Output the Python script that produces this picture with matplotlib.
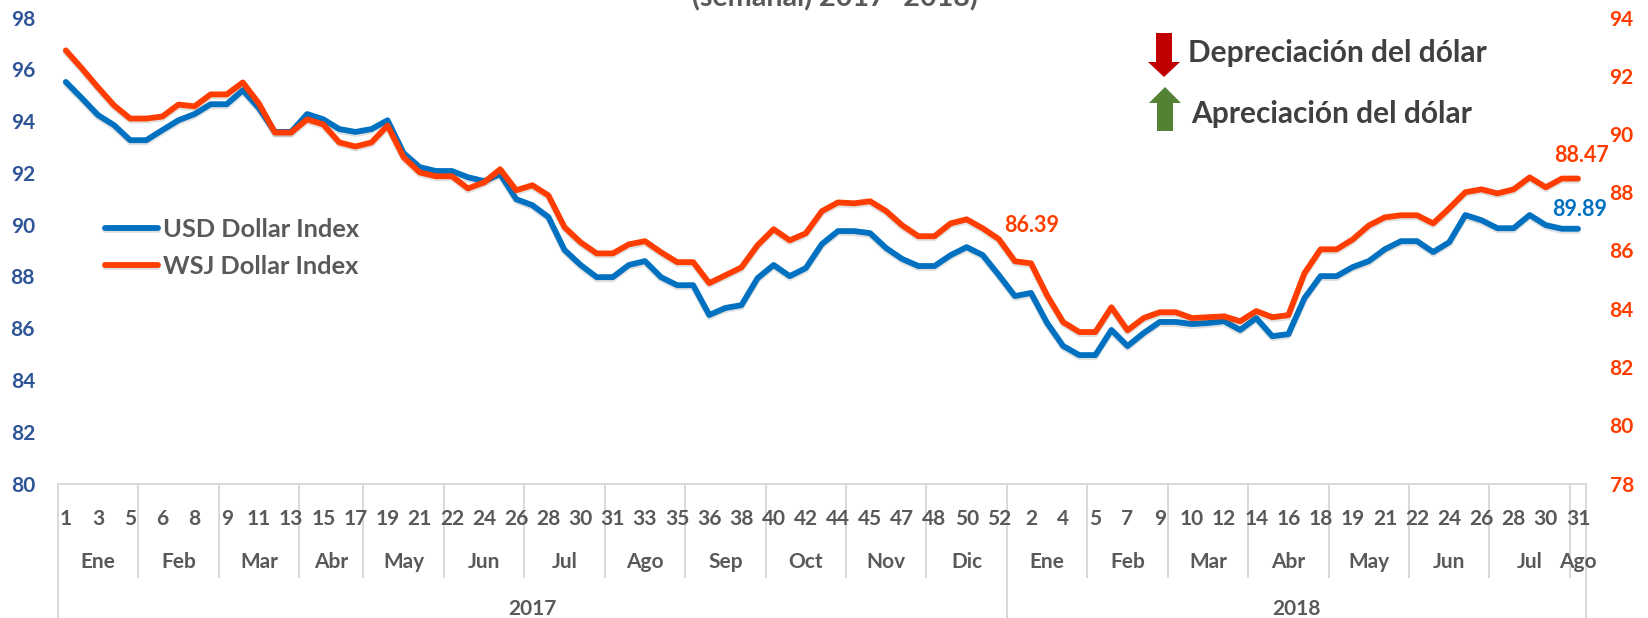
import matplotlib
matplotlib.use("Agg")
import matplotlib.pyplot as plt
import matplotlib.patheffects as pe
from matplotlib.lines import Line2D
from matplotlib.patches import Polygon

plt.rcParams['font.family'] = ['Lato', 'DejaVu Sans']
plt.rcParams['font.weight'] = 'bold'

usd = [95.51,94.88,94.23,93.84,93.26,93.26,93.65,94.03,94.27,94.65,94.65,95.19,94.50,93.58,93.58,94.27,94.07,93.69,93.58,93.69,94.03,92.76,92.22,92.07,92.07,91.83,91.68,91.95,90.98,90.75,90.29,89.02,88.44,87.97,87.97,88.44,88.59,87.97,87.66,87.66,86.51,86.78,86.89,87.93,88.44,88.01,88.32,89.25,
       89.75,89.75,89.67,89.09,88.67,88.40,88.40,88.82,89.13,88.82,88.05,87.24,87.36,86.20,85.31,84.96,84.96,85.93,85.31,85.81,86.24,86.24,86.16,86.20,86.27,85.93,86.39,85.69,85.77,87.16,88.01,88.01,88.36,88.59,89.05,89.36,89.36,88.94,89.32,90.37,90.17,89.86,89.86,90.37,89.98,89.84,89.84]
wsj = [92.87,92.25,91.60,90.98,90.53,90.53,90.60,91.01,90.95,91.36,91.36,91.77,91.05,90.05,90.05,90.50,90.33,89.71,89.57,89.71,90.29,89.20,88.68,88.55,88.55,88.13,88.34,88.79,88.07,88.24,87.89,86.80,86.28,85.90,85.90,86.21,86.32,85.94,85.60,85.60,84.88,85.15,85.42,86.18,86.73,86.35,86.59,87.35,
       87.65,87.62,87.69,87.35,86.86,86.49,86.49,86.93,87.07,86.76,86.39,85.63,85.56,84.46,83.54,83.20,83.20,84.05,83.26,83.68,83.88,83.88,83.68,83.71,83.74,83.57,83.92,83.71,83.78,85.22,86.04,86.04,86.38,86.86,87.14,87.21,87.21,86.93,87.45,88.00,88.10,87.96,88.10,88.51,88.17,88.47,88.47]
week_labels = ['1','3','5','6','8','9','11','13','15','17','19','21','22','24','26','28','30','31','33','35','36','38','40','42','44','45','47','48','50','52',
               '2','4','5','7','9','10','12','14','16','18','19','21','22','24','26','28','30','31']
months = ['Ene','Feb','Mar','Abr','May','Jun','Jul','Ago','Sep','Oct','Nov','Dic','Ene','Feb','Mar','Abr','May','Jun','Jul','Ago']
month_sizes = [5,5,5,4,5,5,5,5,5,5,5,5,5,5,5,5,5,5,5,1]
years = ['2017','2018']
year_sizes = [59,36]
left_ticks = list(range(80,100,2))
right_ticks = list(range(78,96,2))

W,H = 1648,618
BLUE,RED,GREY,LG = '#0070C0','#FF3D00','#595959','#D9D9D9'
FS = 15
fig = plt.figure(figsize=(W/100,H/100),dpi=100)
L,R,T,B = 57.8,1586,17.5,483.5
ax = fig.add_axes([L/W,1-B/H,(R-L)/W,(B-T)/H])
ax2 = ax.twinx()
n = len(usd)
x = list(range(n))
shadow = [pe.SimpleLineShadow(offset=(0,-1.5),alpha=0.18,shadow_color='#555555'),pe.Normal()]
l1, = ax.plot(x,usd,color=BLUE,lw=4.2,solid_joinstyle='round',solid_capstyle='round',path_effects=shadow,label='USD Dollar Index',zorder=3)
l2, = ax2.plot(x,wsj,color=RED,lw=4.2,solid_joinstyle='round',solid_capstyle='round',path_effects=shadow,label='WSJ Dollar Index',zorder=3)
ax.set_xlim(-0.5,n-0.5)
ax.set_ylim(80,98); ax2.set_ylim(78,94)
ax.set_yticks(left_ticks); ax2.set_yticks(right_ticks)
ax.tick_params(axis='y',length=0,pad=16.4,labelsize=FS,labelcolor='#2F5597')
ax2.tick_params(axis='y',length=0,pad=17,labelsize=FS,labelcolor=RED)
for a in (ax,ax2):
    for s in a.spines.values(): s.set_visible(False)
ax.spines['bottom'].set_visible(True); ax.spines['bottom'].set_color(LG); ax.spines['bottom'].set_linewidth(1.4)
ax.set_xticks(list(range(0,n,2))); ax.set_xticklabels(week_labels,fontsize=FS,color=GREY)
ax.tick_params(axis='x',length=0,pad=18.5)
ax.set_axisbelow(False)
trans = ax.get_xaxis_transform()
def sep(pos,ybot):
    ax.add_line(Line2D([pos,pos],[0,-(ybot-B)/(B-T)],transform=trans,color=LG,lw=1.4,clip_on=False,zorder=0.5))
def ylab(px): return -(px-B)/(B-T)
pos = -0.5
for m,s in zip(months,month_sizes):
    ax.text(pos+s/2,ylab(562.5),m,transform=trans,ha='center',va='center',fontsize=FS,color=GREY,zorder=4)
    sep(pos,577); pos += s
pos = -0.5
for y,s in zip(years,year_sizes):
    ax.text(pos+s/2,ylab(609),y,transform=trans,ha='center',va='center',fontsize=FS,color=GREY,zorder=4)
    sep(pos,H); pos += s
sep(pos,H)

fig.text(835/W,1-6/H,'(semanal) 2017- 2018)',ha='center',va='baseline',fontsize=20.6,color='#595959')

ax2.annotate('86.39',xy=(58,wsj[58]),xytext=(1031.6,H-226),textcoords='figure pixels',ha='center',va='center',fontsize=FS+.5,color=RED)
ax2.annotate('88.47',xy=(94,wsj[94]),xytext=(1582,H-155),textcoords='figure pixels',ha='center',va='center',fontsize=FS+.5,color=RED)
ax.annotate('89.89',xy=(94,usd[94]),xytext=(1580,H-209),textcoords='figure pixels',ha='center',va='center',fontsize=FS+.5,color=BLUE)

leg = ax.legend(handles=[l1,l2],loc='upper left',bbox_to_anchor=(105/W,1-218/H),bbox_transform=fig.transFigure,frameon=False,
                fontsize=18.3,handlelength=2.08,handletextpad=0.2,labelspacing=0.555,borderpad=0,borderaxespad=0,labelcolor=GREY)

def poly(pts,c):
    fig.add_artist(Polygon([(px/W,1-py/H) for px,py in pts],closed=True,transform=fig.transFigure,facecolor=c,edgecolor='none'))
poly([(1156,33),(1172,33),(1172,62),(1180,62),(1164,77),(1148,62),(1156,62)],'#C00000')
poly([(1157,131),(1173,131),(1173,103),(1181,103),(1165,87),(1149,103),(1157,103)],'#548235')
fig.text(1188/W,1-53/H,'Depreciación del dólar',ha='left',va='center',fontsize=21.5,color='#404040')
fig.text(1191/W,1-114/H,'Apreciación del dólar',ha='left',va='center',fontsize=21.5,color='#404040')

fig.savefig('out.png',dpi=100)
